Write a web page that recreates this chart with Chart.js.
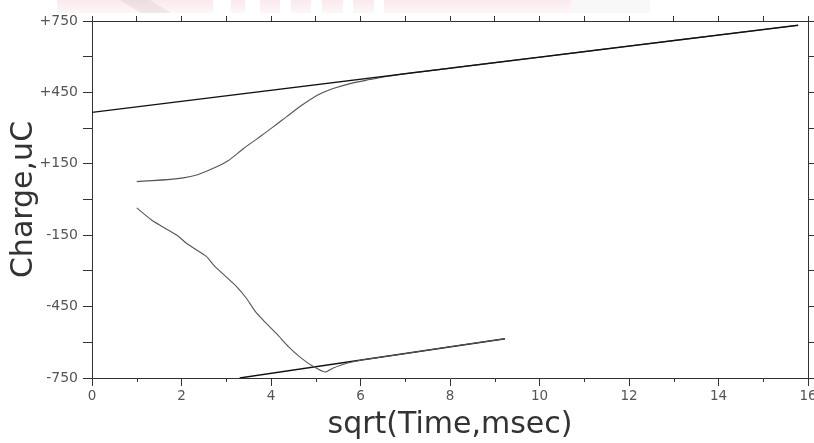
<!DOCTYPE html>
<html><head><meta charset="utf-8">
<script src="https://cdn.jsdelivr.net/npm/chart.js@4"></script>
<style>html,body{margin:0;padding:0;background:#fff}#wrap{width:814px;height:443px;position:relative}</style>
</head><body><div id="wrap"><canvas id="c"></canvas></div>
<script>
const xTitle = 'sqrt(Time,msec)';
const yTitle = 'Charge,uC';
const xMin = 0, xMax = 16, xStep = 1;
const yMin = -750, yMax = 750, yStep = 150;
const xLabelValues = [0, 2, 4, 6, 8, 10, 12, 14, 16];
const yLabelValues = [750, 450, 150, -150, -450, -750];

const upperCurveX = [1.0, 2.04, 2.34, 2.71, 3.04, 3.38, 3.71, 4.05, 4.35, 4.72, 5.09, 5.39, 5.77, 6.21, 6.62, 8, 10, 12, 14, 15.78];
const upperCurveY = [75, 91, 103, 131, 163, 213, 258, 305, 348, 400, 443, 466, 487, 504, 518, 552, 598, 645, 691, 732];
const upperFitX = [0, 15.78];
const upperFitY = [366, 732];
const lowerCurveX = [1.0, 1.33, 1.51, 1.89, 2.14, 2.56, 2.74, 3.23, 3.45, 3.64, 3.82, 4.13, 4.4, 4.65, 4.94, 5.21, 5.38, 5.69, 6.06, 6.9, 8, 9.23];
const lowerCurveY = [-35, -86, -107, -149, -188, -240, -280, -366, -415, -468, -506, -565, -620, -662, -701, -725, -709, -688, -673, -650, -619, -585];
const lowerFitX = [3.3, 9.23];
const lowerFitY = [-750, -585];

const pts = (xs, ys) => xs.map((x, i) => ({x: x, y: ys[i]}));
const AX = '#333';
const FONT = 'DejaVu Sans';

const decor = {
  id: 'decor',
  beforeDraw(chart) {
    const ctx = chart.ctx;
    ctx.save();
    ctx.fillStyle = '#fff';
    ctx.fillRect(0, 0, chart.width, chart.height);
    const g = ctx.createLinearGradient(0, 0, 0, 14);
    g.addColorStop(0, 'rgba(232,160,172,0.22)');
    g.addColorStop(1, 'rgba(232,160,172,0.08)');
    ctx.fillStyle = g;
    ctx.fillRect(57, 0, 156, 13);
    [[231, 14], [260, 20], [291, 20], [322, 21], [353, 21], [384, 16]].forEach(r => ctx.fillRect(r[0], 0, r[1], 13));
    ctx.fillRect(400, 0, 171, 13);
    ctx.fillStyle = 'rgba(170,150,155,0.15)';
    ctx.beginPath(); ctx.moveTo(120, 0); ctx.lineTo(150, 0); ctx.lineTo(171, 13); ctx.lineTo(141, 13); ctx.closePath(); ctx.fill();
    ctx.fillStyle = 'rgba(200,200,200,0.12)';
    ctx.fillRect(571, 0, 79, 13);
    ctx.restore();
  },
  afterDraw(chart) {
    const xs = chart.scales.x, ctx = chart.ctx, b = chart.chartArea.bottom;
    ctx.save();
    ctx.strokeStyle = AX; ctx.lineWidth = 1;
    for (let v = xMin; v <= xMax; v += xStep) {
      if (xLabelValues.includes(v)) continue;
      const px = Math.round(xs.getPixelForValue(v)) + 0.5;
      ctx.beginPath(); ctx.moveTo(px, b); ctx.lineTo(px, b + 4); ctx.stroke();
    }
    ctx.restore();
  }
};

new Chart(document.getElementById('c'), {
  type: 'scatter',
  data: {
    datasets: [
      {data: pts(upperFitX, upperFitY), showLine: true, borderColor: '#111', borderWidth: 1.4, pointRadius: 0, tension: 0},
      {data: pts(upperCurveX, upperCurveY), showLine: true, borderColor: '#555', borderWidth: 1.1, pointRadius: 0, cubicInterpolationMode: 'monotone'},
      {data: pts(lowerCurveX, lowerCurveY), showLine: true, borderColor: '#555', borderWidth: 1.1, pointRadius: 0, tension: 0.15},
      {data: pts(lowerFitX, lowerFitY), showLine: true, borderColor: '#111', borderWidth: 1.4, pointRadius: 0, tension: 0}
    ]
  },
  options: {
    responsive: true, maintainAspectRatio: false, animation: false,
    layout: {padding: 0},
    plugins: {legend: {display: false}, tooltip: {enabled: false}},
    scales: {
      x: {
        type: 'linear', position: 'bottom', min: xMin, max: xMax,
        ticks: {stepSize: xStep, autoSkip: false, maxRotation: 0, color: '#555', font: {family: FONT, size: 13.5}, padding: 2,
          callback: v => xLabelValues.includes(v) ? String(v) : ''},
        grid: {drawOnChartArea: false, drawTicks: true, tickLength: 8,
          tickColor: c => (c.tick && xLabelValues.includes(c.tick.value)) ? AX : 'rgba(0,0,0,0)'},
        border: {display: true, color: AX, width: 1},
        title: {display: true, text: xTitle, color: '#333', font: {family: FONT, size: 30}, padding: {top: 0, bottom: 0}},
        afterFit: s => { s.height = 65; s.paddingLeft = 0; s.paddingRight = 0; }
      },
      x2: {
        type: 'linear', axis: 'x', position: 'top', min: xMin, max: xMax,
        ticks: {stepSize: xStep, display: false, autoSkip: false},
        grid: {drawOnChartArea: false, drawTicks: true, tickLength: 5, color: AX, tickColor: AX},
        border: {display: true, color: AX, width: 1},
        afterFit: s => { s.height = 21; s.paddingLeft = 0; s.paddingRight = 0; }
      },
      y: {
        type: 'linear', position: 'left', min: yMin, max: yMax,
        ticks: {stepSize: yStep, autoSkip: false, color: '#555', font: {family: FONT, size: 14}, padding: 5,
          callback: v => { const r = Math.round(v); return yLabelValues.includes(r) ? (r > 0 ? '+' + r : String(r)) : ''; }},
        grid: {drawOnChartArea: false, drawTicks: true, tickLength: 9, color: AX, tickColor: AX},
        border: {display: true, color: AX, width: 1},
        title: {display: true, text: yTitle, color: '#333', font: {family: FONT, size: 30}, padding: {top: 6, bottom: 0}},
        afterFit: s => { s.width = 92; s.paddingTop = 0; s.paddingBottom = 0; }
      },
      y2: {
        type: 'linear', axis: 'y', position: 'right', min: yMin, max: yMax,
        ticks: {stepSize: yStep, display: false, autoSkip: false},
        grid: {drawOnChartArea: false, drawTicks: true, tickLength: 6, color: AX, tickColor: AX},
        border: {display: true, color: AX, width: 1},
        afterFit: s => { s.width = 6; s.paddingTop = 0; s.paddingBottom = 0; }
      }
    }
  },
  plugins: [decor]
});
</script></body></html>
